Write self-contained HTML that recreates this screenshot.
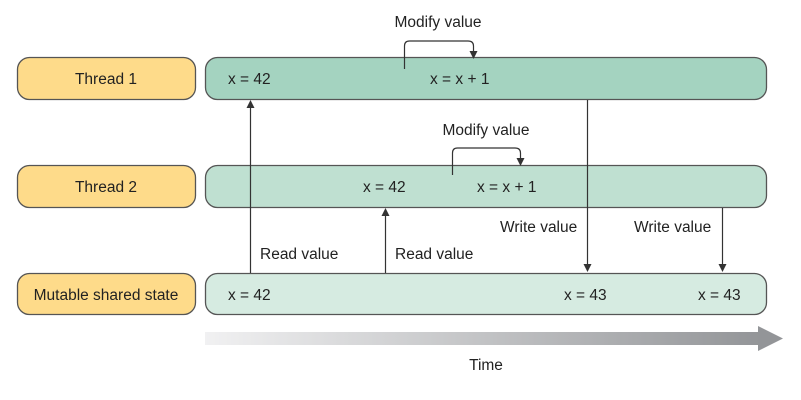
<!DOCTYPE html>
<html><head><style>body{margin:0;background:#fff}svg{display:block}text{font-family:"Liberation Sans",sans-serif;font-size:15.5px;fill:#222}</style></head><body>
<svg width="801" height="400" viewBox="0 0 801 400" xmlns="http://www.w3.org/2000/svg">
<defs>
<linearGradient id="g" x1="0" x2="1"><stop offset="0" stop-color="#f1f1f2"/><stop offset="1" stop-color="#939598"/></linearGradient>
</defs>
<g stroke="#555" stroke-width="1.3">
<rect x="17.5" y="57.5" width="178" height="42" rx="12" fill="#fedb8a"/>
<rect x="17.5" y="165.5" width="178" height="42" rx="12" fill="#fedb8a"/>
<rect x="17.5" y="273.5" width="178" height="41" rx="12" fill="#fedb8a"/>
<rect x="205.5" y="57.5" width="561" height="42" rx="12" fill="#a4d3c0"/>
<rect x="205.5" y="165.5" width="561" height="42" rx="12" fill="#bfe0d1"/>
<rect x="205.5" y="273.5" width="561" height="41" rx="12" fill="#d6ebe1"/>
</g>
<g stroke="#333" stroke-width="1.2" fill="none">
<path d="M250.5 273 V108"/><path d="M385.5 273 V216"/>
<path d="M587.5 100 V264"/><path d="M722.5 208 V264"/>
<path d="M404.5 69 V46 Q404.5 41 409.5 41 H468 Q473.5 41 473.5 46 V52"/>
<path d="M452.5 175 V153 Q452.5 148 457.5 148 H515 Q520.5 148 520.5 153 V159"/>
</g>
<g fill="#333">
<path d="M246.5 108 L254.5 108 L250.5 100 z"/><path d="M381.5 216 L389.5 216 L385.5 208 z"/>
<path d="M583.5 264 L591.5 264 L587.5 272 z"/><path d="M718.5 264 L726.5 264 L722.5 272 z"/>
<path d="M469.5 51 L477.5 51 L473.5 59 z"/><path d="M516.5 158 L524.5 158 L520.5 166 z"/>
</g>
<rect x="205" y="332" width="555" height="13" fill="url(#g)"/>
<path d="M758 326 L783 338.5 L758 351 z" fill="#939598"/>
<g text-anchor="middle">
<text x="106" y="84">Thread 1</text><text x="106" y="192">Thread 2</text><text x="106" y="300">Mutable shared state</text>
<text x="438" y="27">Modify value</text><text x="486" y="135">Modify value</text>
<text x="486" y="370">Time</text>
</g>
<text x="228" y="84">x = 42</text><text x="430" y="84">x = x + 1</text>
<text x="363" y="192">x = 42</text><text x="477" y="192">x = x + 1</text>
<text x="228" y="300">x = 42</text><text x="564" y="300">x = 43</text><text x="698" y="300">x = 43</text>
<text x="260" y="259">Read value</text><text x="395" y="259">Read value</text>
<text x="500" y="232">Write value</text><text x="634" y="232">Write value</text>
</svg>
</body></html>
